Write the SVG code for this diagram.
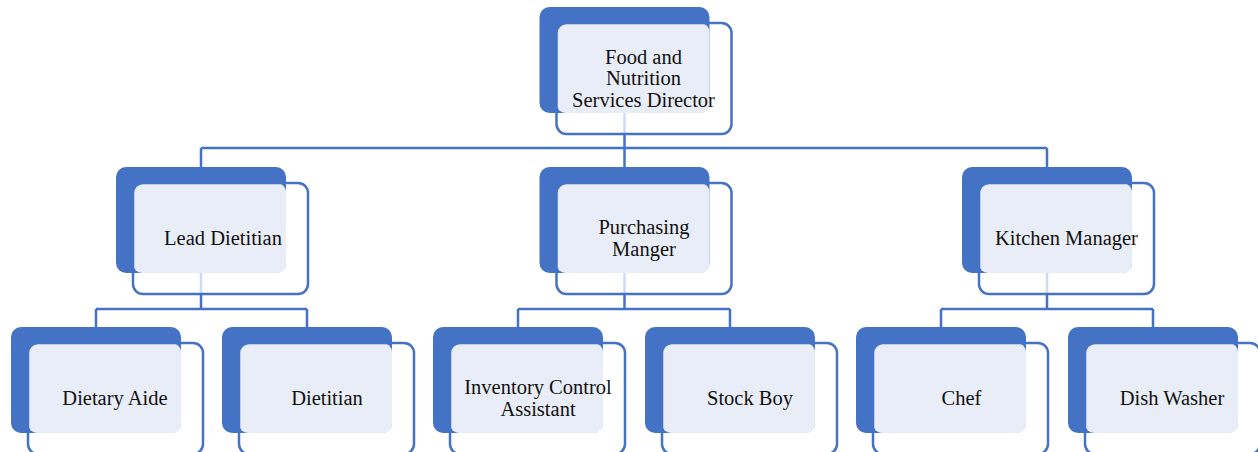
<svg xmlns="http://www.w3.org/2000/svg" width="1258" height="452" viewBox="0 0 1258 452" font-family="'Liberation Serif', 'Times New Roman', serif">
<style>
.back{fill:#4472C4}
.lite{fill:#E9EDF7}
.wash{fill:#FFFFFF;fill-opacity:0.75}
.frame{fill:none;stroke:#4472C4;stroke-width:2.5}
.conn{fill:none;stroke:#4472C4;stroke-width:2.5}
text{font-family:'Liberation Serif','Times New Roman',serif;font-size:20.5px;fill:#111111;text-anchor:middle}
</style>
<defs>
<g id="shape">
<rect class="wash" x="17" y="16" width="175" height="111" rx="10"/>
<rect class="back" x="0" y="0" width="170" height="106" rx="10"/>
<rect class="lite" x="17" y="16" width="153" height="90" rx="9"/>
<rect class="frame" x="17" y="16" width="175" height="111" rx="10"/>
</g>
</defs>
<g id="connectors">
<path class="conn" d="M624.5 113 V148 M201 148 H1047 M201 148 V167 M624.5 148 V167 M1047 148 V167"/>
<path class="conn" d="M201 273 V309 M96 309 H307 M96 309 V327 M307 309 V327"/>
<path class="conn" d="M624.5 273 V309 M518 309 H730 M518 309 V327 M730 309 V327"/>
<path class="conn" d="M1047 273 V309 M941 309 H1153 M941 309 V327 M1153 309 V327"/>
</g>
<g id="node-director">
<use href="#shape" x="539.5" y="7"/>
<text x="643.5" y="63.5" font-family="Liberation Serif, serif">Food and</text>
<text x="643.5" y="85" font-family="Liberation Serif, serif">Nutrition</text>
<text x="643.5" y="106.5" font-family="Liberation Serif, serif">Services Director</text>
</g>
<g id="node-lead-dietitian">
<use href="#shape" x="116" y="167"/>
<text x="223" y="245" font-family="Liberation Serif, serif">Lead Dietitian</text>
</g>
<g id="node-purchasing">
<use href="#shape" x="539.5" y="167"/>
<text x="644" y="234" font-family="Liberation Serif, serif">Purchasing</text>
<text x="644" y="256" font-family="Liberation Serif, serif">Manger</text>
</g>
<g id="node-kitchen">
<use href="#shape" x="962" y="167"/>
<text x="1066.5" y="245" font-family="Liberation Serif, serif">Kitchen Manager</text>
</g>
<g id="node-dietary-aide">
<use href="#shape" x="11" y="327"/>
<text x="115" y="405" font-family="Liberation Serif, serif">Dietary Aide</text>
</g>
<g id="node-dietitian">
<use href="#shape" x="222" y="327"/>
<text x="327" y="405" font-family="Liberation Serif, serif">Dietitian</text>
</g>
<g id="node-inventory">
<use href="#shape" x="433" y="327"/>
<text x="538" y="394" font-family="Liberation Serif, serif">Inventory Control</text>
<text x="538" y="416" font-family="Liberation Serif, serif">Assistant</text>
</g>
<g id="node-stock-boy">
<use href="#shape" x="645" y="327"/>
<text x="750" y="405" font-family="Liberation Serif, serif">Stock Boy</text>
</g>
<g id="node-chef">
<use href="#shape" x="856" y="327"/>
<text x="961.5" y="405" font-family="Liberation Serif, serif">Chef</text>
</g>
<g id="node-dish-washer">
<use href="#shape" x="1068" y="327"/>
<text x="1172" y="405" font-family="Liberation Serif, serif">Dish Washer</text>
</g>
</svg>
